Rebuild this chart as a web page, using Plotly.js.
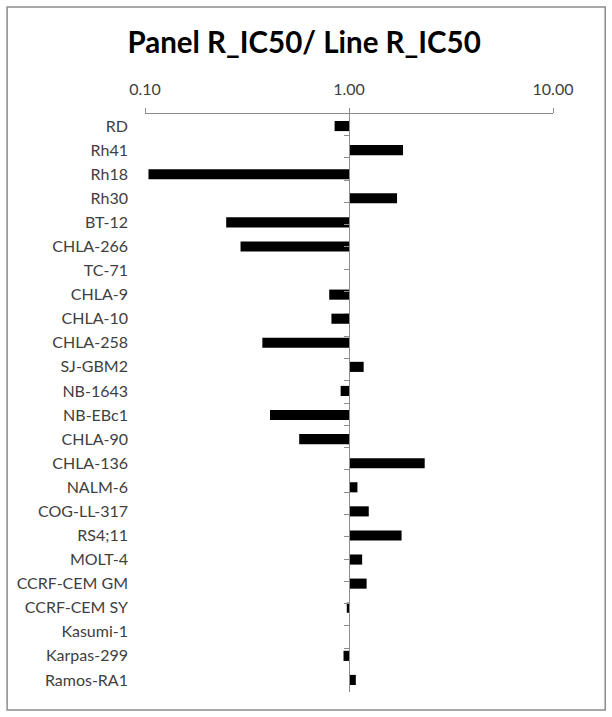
<!DOCTYPE html>
<html><head><meta charset="utf-8">
<script src="https://cdn.plot.ly/plotly-3.0.1.min.js"></script>
<style>html,body{margin:0;padding:0;background:#fff}</style>
</head><body>
<div id="chart" style="width:612px;height:717px"></div>
<script>
const cellLines = ["RD","Rh41","Rh18","Rh30","BT-12","CHLA-266","TC-71","CHLA-9","CHLA-10","CHLA-258","SJ-GBM2","NB-1643","NB-EBc1","CHLA-90","CHLA-136","NALM-6","COG-LL-317","RS4;11","MOLT-4","CCRF-CEM GM","CCRF-CEM SY","Kasumi-1","Karpas-299","Ramos-RA1"];
const ratios = [0.85,1.84,0.104,1.72,0.25,0.294,1.0,0.80,0.82,0.376,1.18,0.91,0.41,0.57,2.35,1.10,1.25,1.81,1.16,1.22,0.975,1.0,0.94,1.08];
const tickVals = [0.1,1,10];
const tickText = ["0.10","1.00","10.00"];
const baseline = 1;

const FONT = "Lato, 'Open Sans', sans-serif";
const data = [
  {type:'bar', orientation:'h', y: cellLines, base: cellLines.map(()=>baseline),
   x: ratios.map(v=>v-baseline), marker:{color:'#000'}, width:0.42, hoverinfo:'skip'},
  {type:'scatter', mode:'markers', y: cellLines, x: cellLines.map(()=>baseline), yaxis:'y2',
   marker:{opacity:0}, hoverinfo:'skip', showlegend:false}
];
const layout = {
  width:612, height:717, showlegend:false, paper_bgcolor:'#fff', plot_bgcolor:'#fff',
  margin:{l:145, r:59, t:114, b:25},
  font:{family:FONT, size:16, color:'#404040'},
  title:{text:'Panel R_IC50/ Line R_IC50', font:{family:FONT, size:29.5, color:'#000', weight:'bold'}, x:0.497, xanchor:'center', y:0.94, yanchor:'middle'},
  xaxis:{type:'log', range:[-1,1], side:'top', tickvals:tickVals, ticktext:tickText,
    showgrid:true, gridcolor:'#8c8c8c', gridwidth:1, showline:true, linecolor:'#8c8c8c', linewidth:1,
    ticks:'outside', ticklen:5, tickcolor:'#8c8c8c', zeroline:false, ticklabelstandoff:7,
    tickfont:{size:16, color:'#404040'}, fixedrange:true},
  yaxis:{type:'category', categoryarray:cellLines, autorange:'reversed', showline:false, showgrid:false,
    ticks:'', ticklabelstandoff:16, tickfont:{size:16, color:'#404040'}},
  yaxis2:{type:'category', categoryarray:cellLines, autorange:'reversed', overlaying:'y', anchor:'free', position:0.5,
    side:'left', showline:true, linecolor:'#8c8c8c', linewidth:1, ticks:'outside', tickson:'boundaries', ticklen:5,
    tickcolor:'#8c8c8c', showticklabels:false, showgrid:false},
  shapes:[{type:'rect', xref:'paper', yref:'paper', x0:-0.338, x1:1.128, y0:-0.031, y1:1.185,
    line:{color:'#8c8c8c', width:1.5}, layer:'below'}]
};
Plotly.newPlot('chart', data, layout, {displayModeBar:false, staticPlot:true});
</script>
</body></html>
